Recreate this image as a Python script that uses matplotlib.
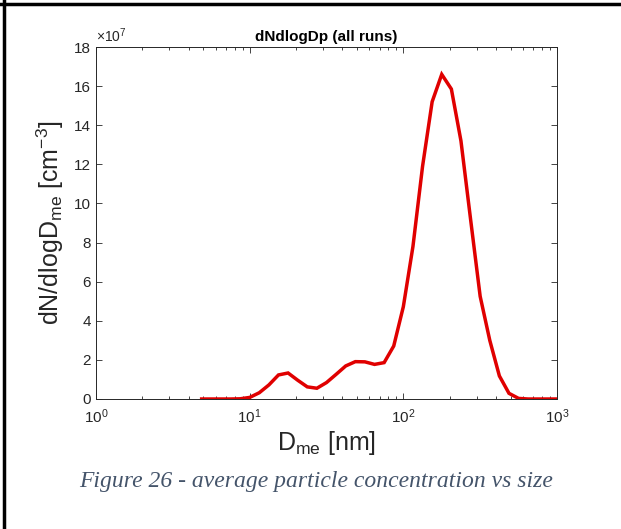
import matplotlib
matplotlib.use("Agg")
import matplotlib.pyplot as plt
from matplotlib.lines import Line2D
from matplotlib.ticker import FixedLocator, LogLocator, NullFormatter

# ---------------------------------------------------------------------------
# Data, concentration in units of 1e7 cm^-3
# ---------------------------------------------------------------------------
diameter_nm = [
    4.870, 5.623, 6.494, 7.499, 8.660, 10.00, 11.55, 13.34, 15.40, 17.78,
    20.54, 23.71, 27.38, 31.62, 36.52, 42.17, 48.70, 56.23, 64.94, 74.99,
    86.60, 100.0, 115.5, 133.4, 154.0, 177.8, 205.4, 237.1, 273.8, 316.2,
    365.2, 421.7, 487.0, 562.3, 649.4, 749.9, 866.0, 1000.0,
]
dndlogd_e7 = [
    0.0, 0.0, 0.0, 0.0, 0.01, 0.08, 0.32, 0.72, 1.23, 1.33,
    0.96, 0.62, 0.55, 0.84, 1.26, 1.69, 1.91, 1.90, 1.77, 1.86,
    2.71, 4.72, 7.80, 11.90, 15.20, 16.60, 15.85, 13.20, 9.20, 5.25,
    3.00, 1.18, 0.29, 0.03, 0.0, 0.0, 0.0, 0.0,
]
x_ticks = [1, 10, 100, 1000]
x_tick_labels = ["$10^{0}$", "$10^{1}$", "$10^{2}$", "$10^{3}$"]
y_ticks = [0, 2, 4, 6, 8, 10, 12, 14, 16, 18]

TITLE = "dNdlogDp (all runs)"
XLABEL = "D$_{\\mathrm{me}}$ [nm]"
YLABEL = "dN/dlogD$_{\\mathrm{me}}$ [cm$^{\\mathrm{-3}}$]"
CAPTION = "Figure 26 - average particle concentration vs size"

# ---------------------------------------------------------------------------
# Style
# ---------------------------------------------------------------------------
plt.rcParams["font.family"] = ["Liberation Sans", "DejaVu Sans"]
plt.rcParams["mathtext.fontset"] = "custom"
plt.rcParams["mathtext.rm"] = "Liberation Sans"
plt.rcParams["mathtext.it"] = "Liberation Sans:italic"
plt.rcParams["mathtext.bf"] = "Liberation Sans:bold"

AX_COLOR = "#262626"
W, H = 621, 529

fig = plt.figure(figsize=(W / 100, H / 100), dpi=100)
fig.patch.set_facecolor("white")

# axes box in pixel coordinates of the reference
left, right, top, bottom = 96, 557, 47, 399
ax = fig.add_axes([left / W, 1 - bottom / H, (right - left) / W, (bottom - top) / H])

ax.plot(diameter_nm, dndlogd_e7, color="#e00000", lw=2.5, solid_joinstyle="miter")

ax.set_xscale("log")
ax.set_xlim(1, 1000)
ax.set_ylim(0, 18)
ax.xaxis.set_major_locator(FixedLocator(x_ticks))
ax.set_xticklabels(x_tick_labels)
ax.xaxis.set_minor_locator(LogLocator(base=10, subs=range(2, 10)))
ax.xaxis.set_minor_formatter(NullFormatter())
ax.set_yticks(y_ticks)

for side in ax.spines.values():
    side.set_color(AX_COLOR)
    side.set_linewidth(0.7)
ax.tick_params(which="both", direction="in", top=True, right=True,
               colors=AX_COLOR, labelsize=11, width=0.6)
ax.tick_params(which="major", length=4)
ax.tick_params(which="minor", length=2.5)
ax.tick_params(axis="x", pad=6)

ax.set_title(TITLE, fontsize=11, fontweight="bold", pad=4)
ax.text(0.0, 1.005, "$\\times10^{7}$", transform=ax.transAxes,
        fontsize=10, color=AX_COLOR, ha="left", va="bottom")
ax.set_xlabel(XLABEL, fontsize=18, color=AX_COLOR, labelpad=2)
ax.set_ylabel(YLABEL, fontsize=18, color=AX_COLOR, labelpad=6)

# caption below the chart (Word style)
fig.text(316 / W, 1 - 482 / H, CAPTION, fontsize=17, style="italic",
         family=["Liberation Serif"], color="#44546A", ha="center", va="center")

# table-cell border on the left and top
fig.add_artist(Line2D([0.0, 1.0], [1 - 4 / H, 1 - 4 / H],
                      transform=fig.transFigure, color="black", lw=2.5))
fig.add_artist(Line2D([4 / W, 4 / W], [0.0, 1.0],
                      transform=fig.transFigure, color="black", lw=2.5))

fig.savefig("out.png", dpi=100)
